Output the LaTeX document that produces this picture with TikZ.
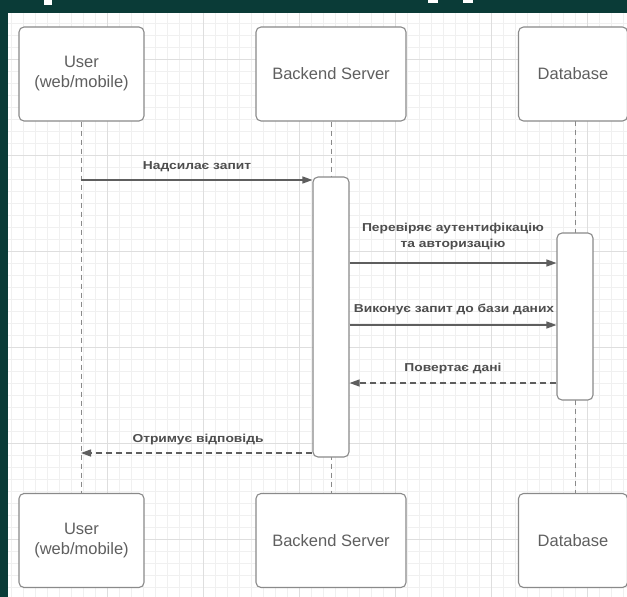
\documentclass[tikz,border=0pt]{standalone}
\usepackage{fontspec}
\setmainfont{Liberation Sans}
\newfontfamily\lblfont[FakeStretch=1.2]{Liberation Sans}
\usetikzlibrary{arrows.meta}
\definecolor{bgdark}{HTML}{0A3B37}
\definecolor{gridminor}{HTML}{F0F0F0}
\definecolor{gridmajor}{HTML}{DEDEDE}
\definecolor{boxline}{HTML}{8A8A8A}
\definecolor{boxtext}{HTML}{5F5F5F}
\definecolor{msgline}{HTML}{5E5E5E}
\definecolor{msgtext}{HTML}{4E4E4E}
\tikzset{
 actor/.style={draw=boxline, line width=1.1pt, rounded corners=5pt, fill=white, minimum width=#1, minimum height=94pt, inner sep=0pt, align=center, text=boxtext, font=\fontsize{16.5}{20}\selectfont},
 actbar/.style={draw=boxline, line width=1.1pt, rounded corners=5pt, fill=white, minimum width=36pt, minimum height=#1, inner sep=0pt},
 lifeline/.style={draw=boxline, line width=1pt, dash pattern=on 5pt off 4pt},
 msg/.style={draw=msgline, line width=1.3pt, -{Triangle[length=10pt,width=7pt]}},
 reply/.style={msg, dash pattern=on 6pt off 4pt},
 msglabel/.style={text=msgtext, font=\lblfont\bfseries\fontsize{11.5}{16}\selectfont, align=center, inner sep=0pt},
 gridmin/.style={draw=gridminor, line width=0.5pt},
 gridmaj/.style={draw=gridmajor, line width=0.6pt},
}
\begin{document}
\begin{tikzpicture}[x=1pt,y=-1pt]
\useasboundingbox (0,0) rectangle (627,597);
% background
\fill[bgdark] (0,0) rectangle (627,597);
\fill[white] (8,13) rectangle (627,597);
\fill[white] (44,0) rectangle (52,5);
\fill[white] (428,0) rectangle (438,3);
\fill[white] (463,0) rectangle (473,3);
% grid
\foreach \x in {11,23,...,623} \draw[gridmin] (\x,13) -- (\x,597);
\foreach \y in {23,35,...,587} \draw[gridmin] (8,\y) -- (627,\y);
\foreach \x in {107,203,...,587} \draw[gridmaj] (\x,13) -- (\x,597);
\foreach \y in {59,155,...,539} \draw[gridmaj] (8,\y) -- (627,\y);
% participant boxes
\node[actor=125pt] (u1) at (81.5,74) {User\\(web/mobile)};
\node[actor=150pt] (b1) at (331,74) {Backend Server};
\node[actor=109pt] (d1) at (573,74) {Database};
\node[actor=125pt] (u2) at (81.5,540.5) {User\\(web/mobile)};
\node[actor=150pt] (b2) at (331,540.5) {Backend Server};
\node[actor=109pt] (d2) at (573,540.5) {Database};
% lifelines
\draw[lifeline] (u1.south) -- (u2.north);
\draw[lifeline] (b1.south) -- (b2.north);
\draw[lifeline] (575,121) -- (575,494);
% activations
\node[actbar=280pt] (a1) at (331,317) {};
\node[actbar=167pt] (a2) at (575,316.5) {};
% messages
\coordinate (uA) at (81,180);
\coordinate (uB) at (81,453);
\draw[msg] (uA) -- (a1.west |- uA);
\node[msglabel] at (197,167) {Надсилає запит};
\draw[msg] (a1.east |- 0,263) -- (a2.west |- 0,263);
\node[msglabel] at (453,236.5) {Перевіряє аутентифікацію\\та авторизацію};
\draw[msg] (a1.east |- 0,325) -- (a2.west |- 0,325);
\node[msglabel] at (454,309) {Виконує запит до бази даних};
\draw[reply] (a2.west |- 0,383) -- (a1.east |- 0,383);
\node[msglabel] at (453,369) {Повертає дані};
\draw[reply] (a1.west |- uB) -- (uB);
\node[msglabel] at (198,440) {Отримує відповідь};
\end{tikzpicture}
\end{document}
